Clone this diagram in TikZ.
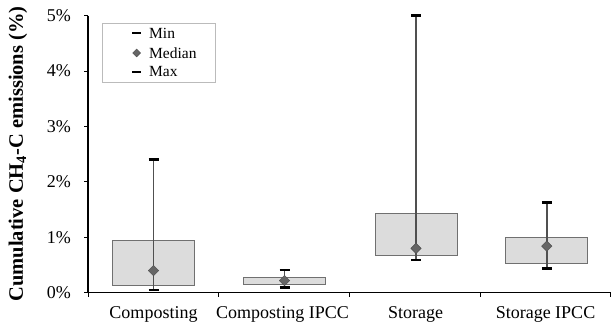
\documentclass[tikz,border=0pt]{standalone}
\usepackage{fontspec}
\setmainfont{Liberation Serif}
\usetikzlibrary{shapes.geometric}

\definecolor{boxfill}{HTML}{DCDCDC}
\definecolor{boxedge}{HTML}{707070}
\definecolor{whisk}{HTML}{505050}
\definecolor{medfill}{HTML}{666666}
\definecolor{legedge}{HTML}{BBBBBB}

\tikzset{
  axisline/.style={line width=1.2pt, black},
  boxbody/.style={fill=boxfill, draw=boxedge, line width=0.9pt},
  whiskerline/.style={whisk, line width=1.5pt},
  capline/.style={black, line width=2.6pt},
  medmark/.style={diamond, fill=medfill, draw=whisk, line width=0.5pt,
    inner sep=0pt, minimum width=10.5pt, minimum height=10.5pt},
  ticklabel/.style={font=\fontsize{18}{20}\selectfont, inner sep=0pt},
  catlabel/.style={font=\fontsize{18}{20}\selectfont, anchor=base, inner sep=0pt},
  legtext/.style={font=\fontsize{15.5}{17}\selectfont, anchor=west, inner sep=0pt},
}

% box plot: #1 name, #2 centre x, #3 min, #4 q1, #5 median, #6 q3, #7 max
\newcommand{\bxplot}[7]{%
  \draw[boxbody] (#2-41,#4) rectangle (#2+41,#6);
  \coordinate (#1-min) at (#2,#3);
  \coordinate (#1-max) at (#2,#7);
  \draw[whiskerline] (#1-min) -- (#1-max);
  \draw[capline] ([xshift=-5pt]#1-min) -- ([xshift=5pt]#1-min);
  \draw[capline] ([xshift=-5pt]#1-max) -- ([xshift=5pt]#1-max);
  \node[medmark] (#1-med) at (#2,#5) {};
}

\begin{document}
\begin{tikzpicture}[x=1pt,y=1pt]
\useasboundingbox (0,0) rectangle (616,326);

% y-axis title
\node[rotate=90, font=\bfseries\fontsize{20.5}{23}\selectfont] (ytitle) at (18,172)
  {Cumulative CH$_{\mathbf{4}}$-C emissions (\%)};

\begin{scope}[shift={(0,33.3)}, y=55.4pt]
  % axes
  \coordinate (origin) at (88,0);
  \coordinate (ytop) at (88,5);
  \coordinate (xend) at (611,0);
  \draw[axisline] (ytop) -- (origin) -- (xend);
  \foreach \v in {0,...,5} {
    \draw[axisline, line width=1pt] (84,\v) -- (88,\v);
    \node[ticklabel, anchor=east] (yl\v) at (71,\v) {\v\%};
  }
  \foreach \x in {88,218.7,349.3,480,610.7}
    \draw[axisline, line width=1pt] (\x,0) -- (\x,-0.07);

  % data
  \bxplot{comp}{153.5}{0.05}{0.13}{0.40}{0.945}{2.40}
  \bxplot{compipcc}{284.5}{0.09}{0.14}{0.22}{0.27}{0.41}
  \bxplot{stor}{416}{0.59}{0.675}{0.80}{1.43}{5.0}
  \bxplot{storipcc}{546.8}{0.44}{0.53}{0.84}{1.0}{1.63}
\end{scope}

% category labels
\node[catlabel] (c1) at (153.5,7) {Composting};
\node[catlabel] (c2) at (282.5,7) {Composting IPCC};
\node[catlabel] (c3) at (415.5,7) {Storage};
\node[catlabel] (c4) at (545.5,7) {Storage IPCC};

% legend
\draw[legedge, line width=0.7pt, fill=white] (102.3,244) rectangle (215.3,302.7);
\coordinate (lmin) at (136.7,292.7);
\coordinate (lmed) at (136.7,273);
\coordinate (lmax) at (136.7,254);
\draw[capline, line width=2.4pt] ([xshift=-4.5pt]lmin) -- ([xshift=4.5pt]lmin);
\node[medmark, minimum width=8pt, minimum height=8pt] (lmedmark) at (lmed) {};
\draw[capline, line width=2.4pt] ([xshift=-4.5pt]lmax) -- ([xshift=4.5pt]lmax);
\node[legtext] (tmin) at (149,292.7) {Min};
\node[legtext] (tmed) at (149,273) {Median};
\node[legtext] (tmax) at (149,254) {Max};
\end{tikzpicture}
\end{document}
